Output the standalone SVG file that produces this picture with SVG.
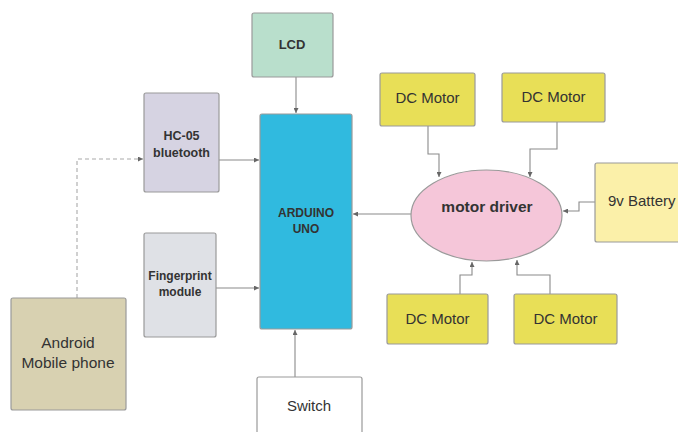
<svg xmlns="http://www.w3.org/2000/svg" width="678" height="432" viewBox="0 0 678 432">
<defs>
<marker id="ah" viewBox="0 0 6 6" refX="6" refY="3" markerWidth="5" markerHeight="5" orient="auto" markerUnits="userSpaceOnUse">
<path d="M0,0 L6,3 L0,6 z" fill="#666"/>
</marker>
<style>
.box{stroke:#9a9a9a;stroke-width:1.2}
.t{font-family:"Liberation Sans",Arial,sans-serif;fill:#333;text-anchor:middle}
.b{font-weight:bold}
.c{fill:none;stroke:#8a8a8a;stroke-width:1.1;marker-end:url(#ah)}
.d{stroke-dasharray:4,3;stroke:#aaa}
</style>
</defs>
<rect width="678" height="432" fill="#fff"/>
<g id="connectors">
<path class="c" d="M296,77 V113"/>
<path class="c" d="M219,160 H259"/>
<path class="c" d="M216,288 H259"/>
<path class="c" d="M295,377 V330"/>
<path class="c" d="M411,214 H353"/>
<path class="c d" d="M77,298 V159 H143"/>
<path class="c" d="M428,126 V154 H439 V177"/>
<path class="c" d="M557,122 V149 H530 V177"/>
<path class="c" d="M595,202 H579 V211 H563"/>
<path class="c" d="M460,294 V275 H472 V262"/>
<path class="c" d="M550,294 V275 H517 V260"/>
</g>
<g id="lcd"><rect class="box" x="252" y="13" width="81" height="64" rx="2" fill="#b9dfcc"/><text class="t b" x="292" y="49" font-size="13">LCD</text></g>
<g id="hc05"><rect class="box" x="144" y="93" width="75" height="99" rx="2" fill="#d6d3e2"/><text class="t b" x="181.5" y="140" font-size="12.5">HC-05</text><text class="t b" x="181.5" y="157" font-size="12.5">bluetooth</text></g>
<g id="fingerprint"><rect class="box" x="144" y="233" width="72" height="104" rx="2" fill="#dfe1e6"/><text class="t b" x="180" y="280" font-size="12">Fingerprint</text><text class="t b" x="180" y="296" font-size="12">module</text></g>
<g id="arduino"><rect class="box" x="260" y="114" width="92" height="215" rx="2" fill="#30badf"/><text class="t b" x="306" y="217" font-size="12">ARDUINO</text><text class="t b" x="306" y="233" font-size="12">UNO</text></g>
<g id="android"><rect class="box" x="11" y="298" width="115" height="112" rx="2" fill="#d8d1b1"/><text class="t" x="68" y="348" font-size="15.5">Android</text><text class="t" x="68" y="368" font-size="15.5">Mobile phone</text></g>
<g id="switch"><rect class="box" x="257" y="377" width="105" height="70" rx="2" fill="#fff"/><text class="t" x="309" y="411" font-size="15">Switch</text></g>
<g id="motordriver"><ellipse cx="486.5" cy="215.5" rx="75.5" ry="45.5" fill="#f5c6d9" stroke="#9a9a9a" stroke-width="1.2"/><text class="t b" x="487" y="212" font-size="15.5" fill="#111">motor driver</text></g>
<g id="motor1"><rect class="box" x="380" y="73" width="95" height="53" rx="2" fill="#e8df57"/><text class="t" x="427.5" y="103" font-size="15">DC Motor</text></g>
<g id="motor2"><rect class="box" x="502" y="73" width="103" height="49" rx="2" fill="#e8df57"/><text class="t" x="553.5" y="102" font-size="15">DC Motor</text></g>
<g id="motor3"><rect class="box" x="387" y="294" width="101" height="50" rx="2" fill="#e8df57"/><text class="t" x="437.5" y="324" font-size="15">DC Motor</text></g>
<g id="motor4"><rect class="box" x="514" y="294" width="103" height="50" rx="2" fill="#e8df57"/><text class="t" x="565.5" y="324" font-size="15">DC Motor</text></g>
<g id="battery"><rect class="box" x="595" y="163" width="95" height="79" rx="2" fill="#fbf0a9"/><text class="t" x="608" y="206" font-size="15" style="text-anchor:start">9v Battery</text></g>
</svg>
